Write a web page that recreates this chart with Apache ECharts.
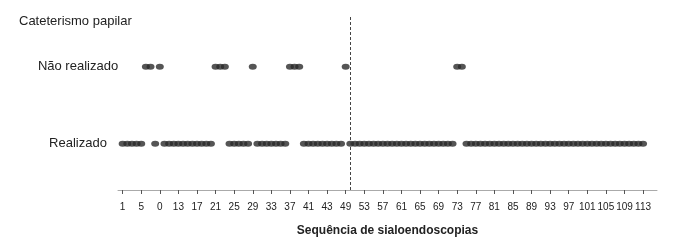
<!DOCTYPE html>
<html>
<head>
<meta charset="utf-8">
<script src="https://cdn.jsdelivr.net/npm/echarts@6/dist/echarts.min.js"></script>
<style>
html,body{margin:0;padding:0;background:#fff;}
#chart{width:700px;height:248px;}
</style>
</head>
<body>
<div id="chart"></div>
<script>
// Sequence positions (1..113) by outcome
var realizado = [1,2,3,4,5,8,10,11,12,13,14,15,16,17,18,19,20,24,25,26,27,28,
  30,31,32,33,34,35,36,40,41,42,43,44,45,46,47,48,
  50,51,52,53,54,55,56,57,58,59,60,61,62,63,64,65,66,67,68,69,70,71,72,
  75,76,77,78,79,80,81,82,83,84,85,86,87,88,89,90,91,92,93,94,95,96,97,98,99,100,
  101,102,103,104,105,106,107,108,109,110,111,112,113];
var naoRealizado = [6,7,9,21,22,23,29,37,38,39,49,73,74];
// x tick labels as printed in the figure, and the positions they mark
var tickPositions = [1,5,9,13,17,21,25,29,33,37,41,45,49,53,57,61,65,69,73,77,81,85,89,93,97,101,105,109,113];
var tickLabels = ['1','5','0','13','17','21','25','29','33','37','41','43','49','53','57','61','65','69','73','77','81','85','89','93','97','101','105','109','113'];
var categoryNames = ['Realizado','Não realizado'];
var categoryValues = [0,1];
var dividerAt = 50;
var axisEnd = 116;

var labelMap = {};
tickPositions.forEach(function(p,i){ labelMap[p] = tickLabels[i]; });
var xCats = [];
for (var k = 0; k <= axisEnd; k++) xCats.push(String(k));

var chart = echarts.init(document.getElementById('chart'), null, {renderer:'canvas'});
var font = '"Liberation Sans", Arial, sans-serif';
chart.setOption({
  animation:false,
  title:{text:'Cateterismo papilar', left:14, top:10,
    textStyle:{fontFamily:font, fontSize:13, fontWeight:'normal', color:'#222'}},
  grid:{left:118, right:43, top:15, bottom:58},
  xAxis:{
    type:'category', data:xCats, boundaryGap:false,
    name:'Sequência de sialoendoscopias', nameLocation:'middle', nameGap:35,
    nameTextStyle:{fontFamily:font, fontSize:12, fontWeight:'bold', color:'#222'},
    axisLine:{onZero:false, lineStyle:{color:'#aaa', width:1}},
    axisTick:{show:true, length:4, lineStyle:{color:'#555'},
      interval:function(idx){ return labelMap[idx] !== undefined; }},
    axisLabel:{fontFamily:font, fontSize:10, color:'#222', margin:12,
      interval:function(idx){ return labelMap[idx] !== undefined; },
      formatter:function(v, idx){ return labelMap[idx] !== undefined ? labelMap[idx] : ''; }},
    splitLine:{show:false}
  },
  yAxis:{
    type:'value', min:-0.6, max:1.67, interval:0.2,
    axisLine:{show:false}, axisTick:{show:false}, splitLine:{show:false},
    axisLabel:{fontFamily:font, fontSize:13, color:'#222', align:'center', margin:40,
      formatter:function(v){
        for (var i=0;i<categoryValues.length;i++){ if (Math.abs(v-categoryValues[i])<1e-6) return categoryNames[i]; }
        return '';
      }}
  },
  series:[
    {type:'scatter', symbol:'circle', symbolSize:[8,6],
      itemStyle:{color:'#2a2a2a'},
      data:realizado.map(function(p){ return [p, categoryValues[0]]; }),
      markLine:{symbol:'none', silent:true, label:{show:false},
        lineStyle:{color:'#444', width:1, type:[3,2]},
        data:[{xAxis:dividerAt}]}
    },
    {type:'scatter', symbol:'circle', symbolSize:[8,6],
      itemStyle:{color:'#2a2a2a'},
      data:naoRealizado.map(function(p){ return [p, categoryValues[1]]; })}
  ]
});
</script>
</body>
</html>
